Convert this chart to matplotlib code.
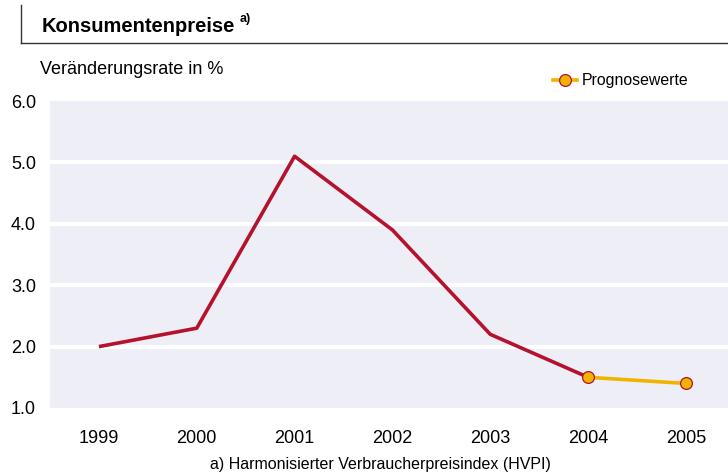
import matplotlib
matplotlib.use("Agg")
import matplotlib.pyplot as plt
from matplotlib.lines import Line2D

plt.rcParams["font.family"] = ["Liberation Sans", "DejaVu Sans"]

years = [1999, 2000, 2001, 2002, 2003, 2004, 2005]
rate = [2.0, 2.3, 5.1, 3.9, 2.2, 1.5, 1.4]
forecast_years = [2004, 2005]
forecast_rate = [1.5, 1.4]
yticks = [1.0, 2.0, 3.0, 4.0, 5.0, 6.0]

red = "#b5122e"
gold = "#f0b400"

fig = plt.figure(figsize=(7.28, 4.72), dpi=100)
ax = fig.add_axes([0.0687, 0.1356, 0.9313, 0.6504])
ax.set_facecolor("#eeeef7")

# red history line (up to first forecast point)
ax.plot(years[:6], rate[:6], color=red, lw=2.6, solid_capstyle="butt", zorder=3)
ax.plot(forecast_years, forecast_rate, color=gold, lw=2.6, zorder=3)
ax.plot(forecast_years, forecast_rate, ls="none", marker="o", ms=8.5,
        mfc=gold, mec=red, mew=0.9, zorder=4)

ax.set_xlim(1998.5, 2005.43)
ax.set_ylim(1.0, 6.0)
ax.set_yticks(yticks)
ax.set_yticklabels(["{:.1f}".format(v) for v in yticks], fontsize=13)
ax.set_xticks(years)
ax.set_xticklabels([str(y) for y in years], fontsize=13)
ax.tick_params(length=0)
ax.tick_params(axis="x", pad=16)
ax.tick_params(axis="y", pad=10)
for s in ax.spines.values():
    s.set_visible(False)
for v in yticks[1:-1]:
    ax.axhline(v, color="white", lw=3, zorder=2)

# header
fig.add_artist(Line2D([21 / 728, 21 / 728], [1 - 5 / 472, 1 - 43 / 472],
                      color="#333333", lw=1))
fig.add_artist(Line2D([21 / 728, 1.0], [1 - 43 / 472, 1 - 43 / 472],
                      color="#333333", lw=1))
fig.text(42 / 728, 1 - 27 / 472, "Konsumentenpreise", fontsize=14.5,
         fontweight="bold", va="center", ha="left")
fig.text(240 / 728, 1 - 19 / 472, "a)", fontsize=9, fontweight="bold",
         va="center", ha="left")
fig.text(40 / 728, 1 - 70 / 472, "Veränderungsrate in %", fontsize=13,
         va="center", ha="left")

# legend
legend_handle = Line2D([], [], color=gold, lw=2.6, marker="o", ms=8.5,
                       mfc=gold, mec=red, mew=0.9)
fig.legend(handles=[legend_handle], labels=["Prognosewerte"], loc="center left",
           bbox_to_anchor=(547 / 728, 1 - 81 / 472), frameon=False, fontsize=11.4,
           handlelength=1.5, handletextpad=0.3, borderaxespad=0)

fig.text(380 / 728, 1 - 465 / 472, "a) Harmonisierter Verbraucherpreisindex (HVPI)",
         fontsize=11.5, ha="center", va="center")

fig.savefig("out.png", dpi=100)
